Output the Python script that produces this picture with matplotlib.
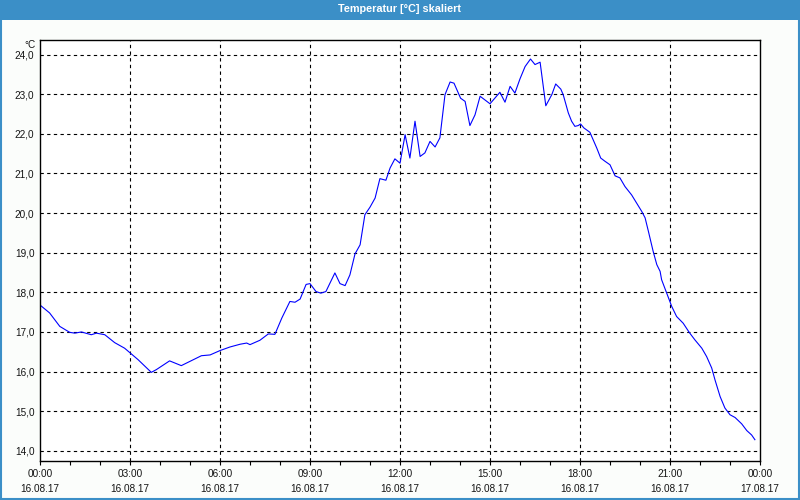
import matplotlib
matplotlib.use("Agg")
import matplotlib.pyplot as plt
from matplotlib.patches import Rectangle
from matplotlib.ticker import FixedLocator, MultipleLocator

# Stunden seit 16.08.17 00:00 und Temperatur in °C
hours = [
    0.00, 0.32, 0.66, 0.99, 1.16, 1.38, 1.71, 1.88, 2.16, 2.49, 2.82, 3.27,
    3.71, 3.88, 4.32, 4.71, 5.38, 5.67, 6.00, 6.33, 6.67, 6.89, 7.00, 7.33,
    7.61, 7.83, 8.06, 8.33, 8.50, 8.67, 8.87, 9.00, 9.20, 9.36, 9.53, 9.83,
    10.00, 10.17, 10.33, 10.50, 10.67, 10.83, 11.00, 11.17, 11.33, 11.53,
    11.67, 11.83, 12.00, 12.17, 12.33, 12.50, 12.67, 12.83, 13.00, 13.17,
    13.33, 13.50, 13.67, 13.80, 14.02, 14.17, 14.33, 14.50, 14.67, 15.00,
    15.33, 15.50, 15.67, 15.83, 16.00, 16.17, 16.35, 16.50, 16.67, 16.86,
    17.06, 17.19, 17.36, 17.44, 17.61, 17.72, 17.83, 17.94, 18.02, 18.13,
    18.33, 18.56, 18.69, 18.83, 19.00, 19.17, 19.33, 19.50, 19.72, 19.89,
    20.06, 20.17, 20.28, 20.44, 20.56, 20.67, 20.72, 20.89, 21.06, 21.22,
    21.44, 21.64, 21.83, 22.06, 22.22, 22.39, 22.50, 22.67, 22.83, 23.00,
    23.17, 23.39, 23.56, 23.72, 23.83,
]
temps = [
    17.68, 17.48, 17.14, 16.99, 16.97, 17.00, 16.93, 16.97, 16.93, 16.73,
    16.59, 16.30, 15.98, 16.05, 16.27, 16.15, 16.40, 16.42, 16.53, 16.62,
    16.69, 16.72, 16.68, 16.79, 16.95, 16.94, 17.35, 17.77, 17.75, 17.83,
    18.20, 18.22, 18.02, 17.98, 18.02, 18.49, 18.22, 18.17, 18.44, 18.97,
    19.20, 19.96, 20.15, 20.38, 20.87, 20.83, 21.14, 21.37, 21.26, 21.98,
    21.39, 22.32, 21.43, 21.52, 21.81, 21.67, 21.90, 22.99, 23.31, 23.28,
    22.90, 22.82, 22.21, 22.48, 22.95, 22.76, 23.05, 22.80, 23.20, 23.03,
    23.39, 23.70, 23.89, 23.75, 23.81, 22.71, 22.99, 23.26, 23.13, 22.99,
    22.53, 22.32, 22.19, 22.21, 22.25, 22.15, 22.04, 21.64, 21.39, 21.31,
    21.22, 20.94, 20.89, 20.67, 20.46, 20.25, 20.04, 19.88, 19.54, 19.03,
    18.70, 18.53, 18.32, 17.98, 17.64, 17.39, 17.22, 16.99, 16.80, 16.59,
    16.38, 16.09, 15.79, 15.37, 15.08, 14.91, 14.84, 14.68, 14.51, 14.40,
    14.28,
]

x_ticks = [0, 3, 6, 9, 12, 15, 18, 21, 24]
x_labels = ["00:00\n16.08.17", "03:00\n16.08.17", "06:00\n16.08.17",
            "09:00\n16.08.17", "12:00\n16.08.17", "15:00\n16.08.17",
            "18:00\n16.08.17", "21:00\n16.08.17", "00:00\n17.08.17"]
y_ticks = [14, 15, 16, 17, 18, 19, 20, 21, 22, 23, 24]

bar_blue = "#3b8fc7"
bg = "#fbfdfb"
txt = "#141414"

plt.rcParams["font.family"] = ["Liberation Sans", "DejaVu Sans"]

fig = plt.figure(figsize=(8, 5), dpi=100, facecolor=bg)

# Titelleiste und Rahmen
fig.patches.append(Rectangle((0, 0.96), 1, 0.04, transform=fig.transFigure,
                             facecolor=bar_blue, edgecolor="none", zorder=0))
fig.patches.append(Rectangle((0.0015, 0.002), 0.997, 0.996, transform=fig.transFigure,
                             facecolor="none", edgecolor=bar_blue, linewidth=1.5, zorder=1))
fig.text(0.5, 0.981, "Temperatur [°C] skaliert", color="white", fontsize=7.8,
         fontweight="bold", ha="center", va="center")

ax = fig.add_axes([0.05, 0.079, 0.90, 0.841])
ax.set_facecolor("white")
ax.plot(hours, temps, color="#0000ff", linewidth=0.8)

ax.set_xlim(0, 24)
ax.set_ylim(13.755, 24.37)

ax.xaxis.set_major_locator(FixedLocator(x_ticks))
ax.set_xticklabels(x_labels, fontsize=7.2, linespacing=1.7, color=txt)
ax.xaxis.set_minor_locator(MultipleLocator(1))
ax.tick_params(axis="x", which="both", direction="out", length=3, width=0.8, pad=3)

ax.set_yticks(y_ticks)
ax.set_yticklabels([f"{v:.1f}".replace(".", ",") for v in y_ticks], fontsize=7.2,
                   color=txt)
ax.tick_params(axis="y", length=0, pad=4)

# Gitterlinien (nur innen)
for xv in x_ticks[1:-1]:
    ax.axvline(xv, color="black", linestyle=(0, (3, 3)), linewidth=0.8, zorder=0)
for yv in y_ticks:
    ax.axhline(yv, color="black", linestyle=(0, (3, 3)), linewidth=0.8, zorder=0)

for s in ax.spines.values():
    s.set_linewidth(1.0)

ax.text(-0.006, 1.0, "°C", transform=ax.transAxes, fontsize=7.2, ha="right",
        va="top", color=txt)

fig.savefig("out.png", dpi=100, facecolor=bg)
